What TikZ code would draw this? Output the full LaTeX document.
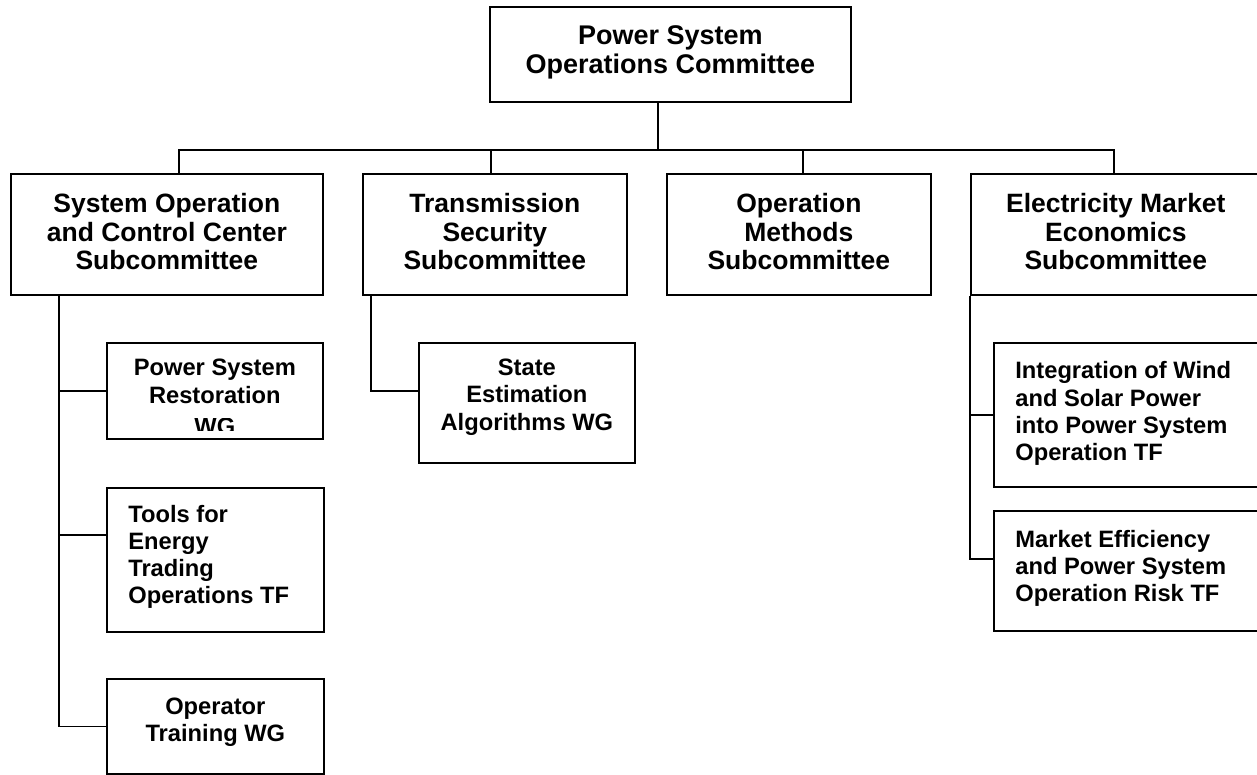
\documentclass[tikz,border=0pt]{standalone}
\usepackage{fontspec}
\setmainfont{Liberation Sans}
\usepackage{trimclip}
\newcommand{\cbox}[4]{\parbox[c][#2pt][t]{#1pt}{\vspace*{#3pt}\centering #4}}
\newcommand{\lbox}[4]{\parbox[c][#2pt][t]{#1pt}{\vspace*{#3pt}\raggedright\leftskip=21.5pt #4}}
\tikzset{
  panel/.style   ={draw=black,line width=1.7pt,inner sep=0pt,anchor=north west},
  commbox/.style ={panel,font=\bfseries\fontsize{27}{29}\selectfont},
  subbox/.style  ={panel,font=\bfseries\fontsize{26.5}{28.5}\selectfont},
  wgbox/.style   ={panel,font=\bfseries\fontsize{23.7}{27.3}\selectfont},
}

\begin{document}
\begin{tikzpicture}[x=1pt,y=-1pt,
          link/.style={draw=black,line width=1.6pt},
        ]
        \useasboundingbox[fill=white] (0,0) rectangle (1257,774);
        \node[commbox] (psoc) at (489,6)
              {\cbox{361}{95}{19}{Power System\\Operations Committee}};
        \node[subbox] (soc)  at (10,173)
              {\cbox{312}{121}{19.5}{System Operation\\and Control Center\\Subcommittee}};
        \node[subbox] (tss)  at (362,173)
              {\cbox{264}{121}{19.5}{Transmission\\Security\\Subcommittee}};
        \node[subbox] (oms)  at (666,173)
              {\cbox{264}{121}{19.5}{Operation\\Methods\\Subcommittee}};
        \node[subbox] (emes) at (970,173)
              {\cbox{290}{121}{19.5}{Electricity Market\\Economics\\Subcommittee}};
        \node[wgbox] (psr) at (106,342)
              {\cbox{216}{96}{16.3}{Power System\\Restoration\\\clipbox{0pt 4.5pt 0pt 0pt}{WG}}};
        \node[wgbox] (tet) at (106,487)
              {\lbox{217}{144}{17}{Tools for\\Energy\\Trading\\Operations TF}};
        \node[wgbox] (otw) at (106,678)
              {\cbox{217}{95}{19}{Operator\\Training WG}};
        \node[wgbox] (sea) at (418,342)
              {\cbox{216}{120}{16}{State\\Estimation\\Algorithms WG}};
        \node[wgbox] (iws) at (993,342)
              {\lbox{269}{144}{18.7}{Integration of Wind\\and Solar Power\\into Power System\\Operation TF}};
        \node[wgbox] (mep) at (993,510)
              {\lbox{269}{120}{19}{Market Efficiency\\and Power System\\Operation Risk TF}};
        \coordinate (bus) at (658,150);
        \draw[link] (psoc.south -| bus) -- (bus);
        \draw[link] ([xshift=12pt]soc.north) |- (bus) -| ([xshift=-2pt]emes.north);
        \foreach \n/\dx in {tss/-4,oms/4}
          \draw[link] (bus) -| ([xshift=\dx pt]\n.north);
        \foreach \n/\dy in {psr/0,tet/25,otw/0}
          \draw[link] ([xshift=-108pt]soc.south) |- ([yshift=\dy pt]\n.west);
        \draw[link] ([xshift=-124pt]tss.south) |- ([yshift=12pt]sea.west);
        \foreach \n/\dy in {iws/0,mep/12}
          \draw[link] (emes.south west) |- ([yshift=\dy pt]\n.west);
      \end{tikzpicture}
\end{document}
